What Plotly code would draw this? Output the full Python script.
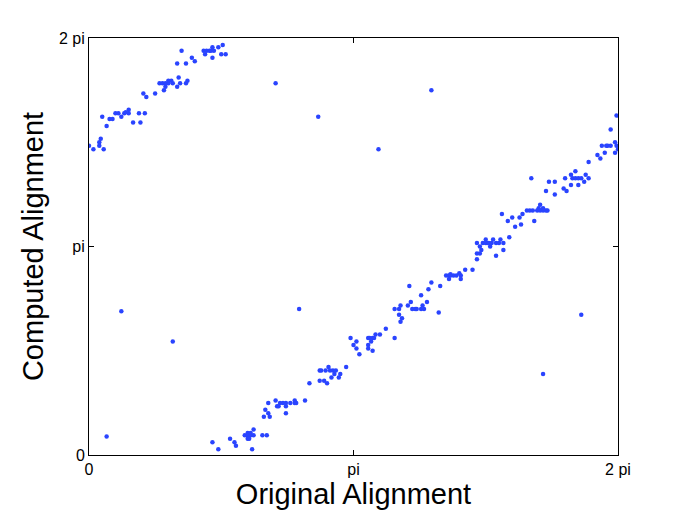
import plotly.graph_objects as go

# Angles in degrees (0..360 == 0..2 pi).

# upper-left branch (computed angle wrapped near 2 pi)
wrap_x = [0, 3, 7, 7, 8, 10, 9, 12, 14, 16, 18, 20, 22, 24, 25, 27, 27, 30, 34, 35,
          38, 37, 39, 45, 48, 50, 52, 54, 57, 54, 56, 52, 51, 60, 61, 62, 66, 67, 60, 66,
          63, 70, 72, 78, 80, 82, 83, 85, 79, 84, 88, 84, 90, 93, 91]
wrap_y = [267, 264, 267, 270, 273, 264, 292, 284, 290, 290, 295, 295, 292, 295, 296, 298, 295, 287, 295, 287,
          295, 312, 309, 312, 321, 321, 321, 321, 321, 323, 323, 318, 315, 318, 326, 321, 321, 323, 338, 338,
          349, 343, 340, 349, 349, 349, 349, 349, 346, 352, 352, 343, 346, 346, 354]

# main diagonal branch
main_x = [84, 88, 96, 99, 100, 106, 108, 109, 110, 112, 108, 110, 108, 109, 112, 111, 118, 121, 119, 120,
          122, 123, 122, 127, 128, 129, 130, 132, 134, 137, 140, 141, 140, 134, 134, 147, 150, 157, 160, 162,
          157, 158, 161, 164, 166, 168, 163, 165, 170, 167, 171, 175, 178, 182, 180, 182, 184, 190, 191, 193,
          194, 195, 198, 192, 190, 190, 193, 202, 208, 208, 211, 212, 211, 213, 212, 217, 219, 220, 222, 223,
          226, 228, 227, 230, 226, 231, 218, 233, 239, 238, 243, 245, 246, 248, 250, 253, 246, 245, 252, 253,
          256, 261, 264, 264, 266, 267, 266, 264, 268, 270, 271, 272, 274, 277, 279, 282, 270, 275, 280, 273,
          277, 282, 286, 281, 285, 288, 290, 293, 294, 295, 298, 300, 302, 305, 307, 309, 311, 312, 307, 306,
          309, 303, 311, 313, 317, 317, 323, 325, 324, 328, 331, 329, 331, 333, 335, 328, 333, 337, 338, 340,
          340, 346, 348, 349, 352, 353, 355, 351, 358, 359, 360, 358, 355, 359]
main_y = [11, 5, 14, 11, 8, 17, 17, 17, 17, 17, 19, 19, 14, 14, 22, 5, 17, 17, 33, 39,
          36, 33, 45, 47, 42, 42, 45, 45, 45, 45, 45, 45, 47, 42, 36, 47, 62, 64, 64, 62,
          73, 73, 73, 73, 73, 73, 76, 67, 67, 70, 70, 76, 101, 98, 95, 92, 87, 101, 101, 101,
          101, 104, 104, 98, 95, 92, 90, 109, 101, 126, 126, 129, 121, 118, 115, 129, 132, 126, 126, 126,
          126, 126, 129, 132, 138, 143, 146, 149, 146, 123, 155, 155, 155, 155, 155, 155, 156, 152, 157, 152,
          160, 160, 169, 174, 174, 177, 180, 183, 183, 183, 183, 183, 183, 183, 183, 183, 186, 186, 186, 180,
          172, 177, 188, 208, 202, 205, 197, 205, 199, 208, 211, 211, 211, 211, 211, 211, 211, 211, 216, 213,
          213, 202, 228, 236, 236, 225, 230, 228, 239, 242, 245, 239, 239, 239, 239, 233, 233, 236, 242, 239,
          253, 259, 256, 267, 267, 267, 267, 261, 270, 267, 264, 261, 281, 293]

# stray points away from both branches
stray_x = [12, 22, 57, 127, 156, 197, 233, 143, 309, 335, 301]
stray_y = [16, 124, 98, 321, 292, 264, 315, 126, 70, 121, 239]

x_ticks = [0, 180, 360]
y_ticks = [0, 180, 360]
tick_text = ["0", "pi", "2 pi"]

DOT = "#2a44ff"
FONT = "Liberation Sans, Arial, sans-serif"

fig = go.Figure()
for xs, ys in [(wrap_x, wrap_y), (main_x, main_y), (stray_x, stray_y)]:
    fig.add_trace(
        go.Scatter(
            x=xs,
            y=ys,
            mode="markers",
            marker=dict(color=DOT, size=4.5, line=dict(width=0)),
            showlegend=False,
        )
    )

axis_common = dict(
    showgrid=False,
    zeroline=False,
    showline=True,
    linecolor="black",
    linewidth=1,
    mirror="ticks",
    ticks="inside",
    ticklen=5,
    tickcolor="black",
    tickfont=dict(family=FONT, size=16, color="black"),
    automargin=False,
)

# page body adds an 8px margin, so the figure is a bit smaller than the window
fig.update_layout(
    width=673,
    height=504,
    paper_bgcolor="white",
    plot_bgcolor="white",
    margin=dict(l=81, r=63, t=30, b=57),
    xaxis=dict(
        range=[0, 360],
        tickvals=x_ticks,
        ticktext=tick_text,
        title=dict(text="Original Alignment", font=dict(family=FONT, size=29, color="black"), standoff=2),
        **axis_common,
    ),
    yaxis=dict(
        range=[0, 360],
        tickvals=y_ticks,
        ticktext=tick_text,
        title=dict(text="Computed Alignment", font=dict(family=FONT, size=29, color="black"), standoff=6),
        **axis_common,
    ),
)

fig.write_html("out.html")
